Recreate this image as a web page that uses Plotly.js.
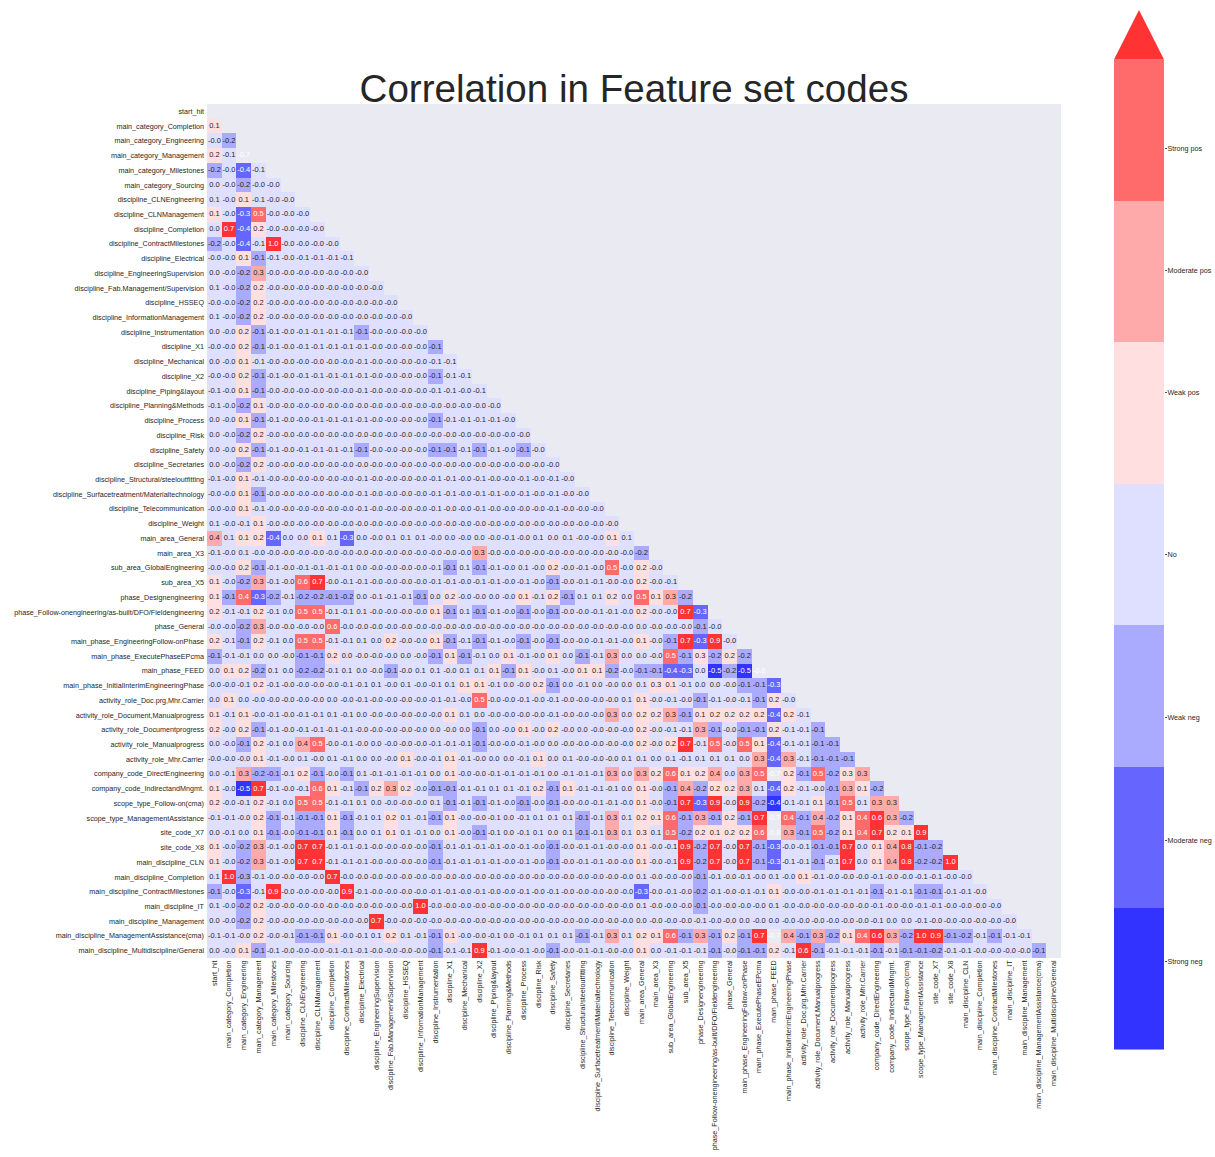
<!DOCTYPE html>
<html><head><meta charset="utf-8">
<script src="https://cdn.plot.ly/plotly-3.0.1.min.js"></script>
<style>html,body{margin:0;padding:0;background:#fff}</style></head>
<body><div id="chart" style="width:1215px;height:1157px"></div>
<script>
const features=["start_hit","main_category_Completion","main_category_Engineering","main_category_Management","main_category_Milestones","main_category_Sourcing","discipline_CLNEngineering","discipline_CLNManagement","discipline_Completion","discipline_ContractMilestones","discipline_Electrical","discipline_EngineeringSupervision","discipline_Fab.Management/Supervision","discipline_HSSEQ","discipline_InformationManagement","discipline_Instrumentation","discipline_X1","discipline_Mechanical","discipline_X2","discipline_Piping&layout","discipline_Planning&Methods","discipline_Process","discipline_Risk","discipline_Safety","discipline_Secretaries","discipline_Structural/steeloutfitting","discipline_Surfacetreatment/Materialtechnology","discipline_Telecommunication","discipline_Weight","main_area_General","main_area_X3","sub_area_GlobalEngineering","sub_area_X5","phase_Designengineering","phase_Follow-onengineering/as-built/DFO/Fieldengineering","phase_General","main_phase_EngineeringFollow-onPhase","main_phase_ExecutePhaseEPcma","main_phase_FEED","main_phase_InitialInterimEngineeringPhase","activity_role_Doc.prg,Mhr.Carrier","activity_role_Document,Manualprogress","activity_role_Documentprogress","activity_role_Manualprogress","activity_role_Mhr.Carrier","company_code_DirectEngineering","company_code_IndirectandMngmt.","scope_type_Follow-on(cma)","scope_type_ManagementAssistance","site_code_X7","site_code_X8","main_discipline_CLN","main_discipline_Completion","main_discipline_ContractMilestones","main_discipline_IT","main_discipline_Management","main_discipline_ManagementAssistance(cma)","main_discipline_Multidiscipline/General"];
const r00=[];
const r01=[.12];
const r02=[-.02,-.2];
const r03=[.2,-.08,-.7];
const r04=[-.2,-.02,-.38,-.08];
const r05=[.02,-.02,-.2,-.02,-.02];
const r06=[.08,-.02,.12,-.08,-.02,-.02];
const r07=[.12,-.02,-.32,.5,-.02,-.02,-.02];
const r08=[.02,.7,-.38,.2,-.02,-.02,-.02,-.02];
const r09=[-.2,-.02,-.38,-.08,1,-.02,-.02,-.02,-.02];
const r10=[-.02,-.02,.12,-.12,-.08,-.02,-.08,-.08,-.08,-.08];
const r11=[.02,-.02,-.2,.32,-.02,-.02,-.02,-.02,-.02,-.02,-.02];
const r12=[.08,-.02,-.2,.2,-.02,-.02,-.02,-.02,-.02,-.02,-.02,-.02];
const r13=[-.02,-.02,-.2,.2,-.02,-.02,-.02,-.02,-.02,-.02,-.02,-.02,-.02];
const r14=[.08,-.02,-.2,.2,-.02,-.02,-.02,-.02,-.02,-.02,-.02,-.02,-.02,-.02];
const r15=[.02,-.02,.2,-.12,-.08,-.02,-.08,-.08,-.08,-.08,-.12,-.02,-.02,-.02,-.02];
const r16=[-.02,-.02,.2,-.12,-.08,-.02,-.08,-.08,-.08,-.08,-.08,-.02,-.02,-.02,-.02,-.12];
const r17=[.02,-.02,.12,-.08,-.02,-.02,-.02,-.02,-.02,-.02,-.08,-.02,-.02,-.02,-.02,-.08,-.08];
const r18=[-.02,-.02,.2,-.12,-.08,-.02,-.08,-.08,-.08,-.08,-.08,-.02,-.02,-.02,-.02,-.12,-.08,-.08];
const r19=[-.08,-.02,.12,-.12,-.02,-.02,-.02,-.02,-.02,-.02,-.08,-.02,-.02,-.02,-.02,-.08,-.08,-.02,-.08];
const r20=[-.08,-.02,-.2,.12,-.02,-.02,-.02,-.02,-.02,-.02,-.02,-.02,-.02,-.02,-.02,-.02,-.02,-.02,-.02,-.02];
const r21=[.02,-.02,.12,-.12,-.08,-.02,-.02,-.08,-.08,-.08,-.08,-.02,-.02,-.02,-.02,-.12,-.08,-.08,-.08,-.08,-.02];
const r22=[.02,-.02,-.2,.2,-.02,-.02,-.02,-.02,-.02,-.02,-.02,-.02,-.02,-.02,-.02,-.02,-.02,-.02,-.02,-.02,-.02,-.02];
const r23=[.02,-.02,.2,-.12,-.08,-.02,-.08,-.08,-.08,-.08,-.12,-.02,-.02,-.02,-.02,-.12,-.12,-.08,-.12,-.08,-.02,-.12,-.02];
const r24=[.02,-.02,-.2,.2,-.02,-.02,-.02,-.02,-.02,-.02,-.02,-.02,-.02,-.02,-.02,-.02,-.02,-.02,-.02,-.02,-.02,-.02,-.02,-.02];
const r25=[-.08,-.02,.12,-.08,-.02,-.02,-.02,-.02,-.02,-.02,-.08,-.02,-.02,-.02,-.02,-.08,-.08,-.02,-.08,-.02,-.02,-.08,-.02,-.08,-.02];
const r26=[-.02,-.02,.12,-.12,-.02,-.02,-.02,-.02,-.02,-.02,-.08,-.02,-.02,-.02,-.02,-.08,-.08,-.02,-.08,-.08,-.02,-.08,-.02,-.08,-.02,-.02];
const r27=[-.02,-.02,.12,-.08,-.02,-.02,-.02,-.02,-.02,-.02,-.08,-.02,-.02,-.02,-.02,-.08,-.02,-.02,-.08,-.02,-.02,-.02,-.02,-.08,-.02,-.02,-.02];
const r28=[.08,-.02,-.08,.12,-.02,-.02,-.02,-.02,-.02,-.02,-.02,-.02,-.02,-.02,-.02,-.02,-.02,-.02,-.02,-.02,-.02,-.02,-.02,-.02,-.02,-.02,-.02,-.02];
const r29=[.38,.08,.12,.2,-.38,.02,.02,.12,.08,-.32,.02,-.02,.08,.08,.08,-.02,.02,-.02,.02,-.02,-.08,-.02,.08,.02,.08,-.02,-.02,.12,.08];
const r30=[-.08,-.02,.08,-.02,-.02,-.02,-.02,-.02,-.02,-.02,-.02,-.02,-.02,-.02,-.02,-.02,-.02,-.02,.32,-.02,-.02,-.02,-.02,-.02,-.02,-.02,-.02,-.02,-.02,-.2];
const r31=[-.02,-.02,.2,-.12,-.08,-.02,-.08,-.08,-.08,-.08,.02,-.02,-.02,-.02,-.02,-.08,-.12,.08,-.12,-.08,-.02,.08,-.02,.2,-.02,-.08,-.02,.5,-.02,.2,-.02];
const r32=[.12,-.02,-.2,.32,-.08,-.02,.58,.7,-.02,-.08,-.08,-.02,-.02,-.02,-.02,-.08,-.08,-.02,-.08,-.08,-.02,-.08,-.02,-.12,-.02,-.08,-.08,-.02,-.02,.2,-.02,-.08];
const r33=[.12,-.12,.42,-.32,-.2,-.08,-.2,-.2,-.12,-.2,.02,-.08,-.08,-.08,-.12,.02,.2,-.02,-.02,.02,-.02,.12,-.08,.2,-.12,.08,.08,.2,.02,.5,.12,.32,-.2];
const r34=[.2,-.08,-.08,.2,-.08,.02,.5,.5,-.08,-.08,.08,-.02,-.02,-.02,-.02,.12,-.12,.08,-.12,-.08,-.02,-.12,-.02,-.12,-.02,-.02,-.08,-.08,-.02,.2,-.02,-.02,.7,-.32];
const r35=[-.02,-.02,-.2,.32,-.02,-.02,-.02,-.02,.58,-.02,-.02,-.02,-.02,-.02,-.02,-.02,-.02,-.02,-.02,-.02,-.02,-.02,-.02,-.02,-.02,-.02,-.02,-.02,-.02,.02,-.02,-.02,-.02,-.12,-.02];
const r36=[.2,-.08,-.12,.2,-.08,.02,.5,.5,-.08,-.08,.08,.02,.2,-.02,-.02,.12,-.12,-.08,-.12,-.08,-.02,-.12,-.02,-.12,-.02,-.02,-.08,-.08,-.02,.12,-.02,-.12,.7,-.32,.9,-.02];
const r37=[-.12,-.08,-.08,.02,.02,-.02,-.12,-.12,.2,.02,-.02,-.02,-.02,.02,-.02,-.12,.12,-.12,-.08,.02,.12,-.08,-.02,.12,.02,-.12,-.08,.32,.02,.02,-.02,.5,-.12,.28,-.2,.2,-.2];
const r38=[.02,.12,.2,-.2,.08,.02,-.2,-.2,-.08,.08,.02,-.02,-.12,-.02,.08,.08,-.02,.08,.08,.12,-.12,.12,-.02,.08,-.02,.12,.12,-.2,-.02,-.12,-.12,-.38,-.32,.02,-.5,-.2,-.5,-.62];
const r39=[-.02,-.02,-.08,.2,-.08,-.02,-.02,-.02,-.02,-.08,-.08,.08,-.02,.08,-.02,-.08,.08,.12,.12,-.08,.02,-.02,.2,-.12,.02,-.08,.02,-.02,.02,.08,.28,.12,-.08,.02,.02,-.02,-.12,-.12,-.32];
const r40=[.02,.12,.02,-.02,-.02,-.02,-.02,-.02,.02,-.02,-.08,-.02,-.02,-.02,-.02,-.08,-.08,-.02,.5,-.02,-.02,-.08,-.02,-.08,-.02,-.02,-.02,-.02,.08,.12,-.02,-.08,-.02,-.12,-.08,-.02,-.08,-.12,.2,-.02];
const r41=[.12,-.08,.12,-.02,-.08,-.02,-.08,-.08,.08,-.08,.02,-.02,-.02,-.02,-.02,-.02,.12,.08,.02,-.02,-.02,-.02,-.02,-.08,-.02,-.02,-.02,.32,.02,.2,.2,.32,-.12,.12,.2,.2,.2,.2,-.38,.2,-.08];
const r42=[.2,-.02,.2,-.12,-.08,-.02,-.08,-.08,-.08,-.08,-.02,-.02,-.02,-.02,-.02,.02,-.02,.02,-.12,.02,-.02,.12,-.02,.2,-.02,.02,-.02,-.02,-.02,.2,-.02,-.08,-.08,.32,-.12,-.02,-.12,-.12,.2,-.08,-.08,-.12];
const r43=[.02,-.02,-.12,.2,-.08,.02,.38,.5,-.02,-.08,-.02,.02,-.02,-.02,-.02,-.08,-.08,-.08,-.12,-.02,-.02,-.08,-.02,.02,-.02,-.02,-.02,-.02,-.02,.2,-.02,.2,.7,-.08,.5,-.02,.5,.12,-.38,-.08,-.08,-.12,-.12];
const r44=[-.02,-.02,-.02,.12,-.08,-.02,.08,-.02,.08,-.08,.02,.02,-.02,.12,-.02,-.08,.12,-.08,-.02,.02,.02,-.08,.12,.02,.08,-.02,-.02,-.02,.08,.08,.02,.08,-.08,.08,.08,.08,.02,.32,-.38,.32,-.08,-.12,-.12,-.12];
const r45=[.02,-.08,.32,-.2,-.12,-.08,.2,-.12,-.02,-.12,.08,-.08,-.08,-.08,-.08,.02,.12,-.02,-.02,-.08,-.08,-.08,-.08,.02,-.08,-.08,-.08,.32,.02,.32,.2,.58,.12,.2,.38,.02,.32,.5,-.7,.2,-.12,.5,-.2,.28,.32];
const r46=[.12,-.02,-.5,.7,-.08,-.02,-.08,.58,.12,-.08,-.12,.2,.32,.2,-.02,-.12,-.12,-.08,-.08,.08,.08,-.08,.2,-.12,.12,-.08,-.08,-.08,.02,.12,-.02,-.12,.38,-.2,.2,.2,.32,.08,-.38,.2,-.08,-.02,-.12,.32,.12,-.2];
const r47=[.2,-.02,-.08,.2,-.08,.02,.5,.5,-.08,-.08,.08,.02,-.02,-.02,-.02,.08,-.12,-.08,-.12,-.08,-.02,-.12,-.02,-.12,-.02,-.02,-.08,-.08,-.02,.12,-.02,-.12,.7,-.32,.9,-.02,.9,-.2,-.42,-.08,-.08,.12,-.12,.5,.08,.32,.32];
const r48=[-.08,-.08,-.02,.2,-.12,-.08,-.12,-.12,.12,-.12,-.08,.08,.2,.08,-.08,-.12,.12,-.02,-.02,-.08,.02,-.08,.08,.08,.08,-.12,-.08,.32,.08,.2,.12,.58,-.12,.32,-.12,.2,-.12,.7,-.7,.42,-.12,.38,-.2,.12,.42,.62,.32,-.2];
const r49=[.02,-.08,.02,.12,-.12,-.02,-.12,-.12,.12,-.12,.02,.08,.12,.08,-.08,.02,.12,-.02,-.12,-.08,.02,-.08,.08,.02,.08,-.12,-.08,.32,.08,.28,.08,.5,-.2,.2,.12,.2,.2,.58,-.8,.32,-.12,.5,-.2,.12,.42,.7,.2,.12,.9];
const r50=[.12,-.02,-.2,.32,-.08,-.02,.7,.7,-.08,-.08,-.08,-.02,-.02,-.02,-.02,-.12,-.08,-.08,-.08,-.08,-.02,-.08,-.02,-.12,-.02,-.08,-.08,-.02,-.02,.12,-.02,-.08,.9,-.2,.7,-.02,.7,-.12,-.32,-.02,-.08,-.12,-.12,.7,.02,.12,.38,.8,-.12,-.2];
const r51=[.12,-.02,-.2,.32,-.08,-.02,.7,.7,-.08,-.08,-.08,-.02,-.02,-.02,-.02,-.12,-.08,-.08,-.08,-.08,-.02,-.08,-.02,-.12,-.02,-.08,-.08,-.02,-.02,.12,-.02,-.08,.9,-.2,.7,-.02,.7,-.12,-.32,-.08,-.08,-.12,-.08,.7,.02,.12,.38,.8,-.2,-.2,1];
const r52=[.08,1,-.28,-.08,-.02,-.02,-.02,-.02,.7,-.02,-.02,-.02,-.02,-.02,-.02,-.02,-.02,-.02,-.02,-.02,-.02,-.02,-.02,-.02,-.02,-.02,-.02,-.02,-.02,.08,-.02,-.02,-.02,-.12,-.08,-.02,-.08,-.02,.08,-.02,.12,-.08,-.02,-.02,-.02,-.08,-.02,-.02,-.08,-.08,-.02,-.02];
const r53=[-.12,-.02,-.32,-.08,.9,-.02,-.02,-.02,-.02,.9,-.08,-.02,-.02,-.02,-.02,-.08,-.08,-.02,-.08,-.02,-.02,-.08,-.02,-.08,-.02,-.02,-.02,-.02,-.02,-.32,-.02,-.08,-.02,-.2,-.08,-.02,-.08,-.08,.12,-.02,-.02,-.08,-.08,-.08,-.08,-.12,-.08,-.08,-.12,-.12,-.08,-.08,-.02];
const r54=[.08,-.02,-.2,.2,-.02,-.02,-.02,-.02,-.02,-.02,-.02,-.02,-.02,-.02,1,-.02,-.02,-.02,-.02,-.02,-.02,-.02,-.02,-.02,-.02,-.02,-.02,-.02,-.02,.08,-.02,-.02,-.02,-.12,-.02,-.02,-.02,-.02,.08,-.02,-.02,-.02,-.02,-.02,-.02,-.08,-.02,-.02,-.08,-.08,-.02,-.02,-.02,-.02];
const r55=[.02,-.02,-.2,.2,-.02,-.02,-.02,-.02,-.02,-.02,-.02,.7,-.02,-.02,-.02,-.02,-.02,-.02,-.02,-.02,-.02,-.02,-.02,-.02,-.02,-.02,-.02,-.02,-.02,.02,-.02,-.02,-.02,-.08,-.02,-.02,.02,-.02,.02,-.02,-.02,-.02,-.02,-.02,-.02,-.08,.02,.02,-.08,-.02,-.02,-.02,-.02,-.02,-.02];
const r56=[-.08,-.08,-.02,.2,-.02,-.08,-.12,-.12,.12,-.02,-.08,.08,.2,.08,-.08,-.12,.12,-.02,-.02,-.08,.02,-.08,.08,.08,.08,-.12,-.08,.32,.08,.2,.12,.58,-.12,.32,-.12,.2,-.12,.7,-.7,.38,-.12,.32,-.2,.12,.42,.62,.32,-.2,1,.9,-.12,-.2,-.08,-.12,-.08,-.08];
const r57=[.02,-.02,.12,-.12,-.08,-.02,-.02,-.02,-.08,-.08,-.08,-.02,-.02,-.02,-.02,-.12,-.08,-.08,.9,-.08,-.02,-.08,-.02,-.12,-.02,-.08,-.08,-.02,-.02,.12,.02,-.08,-.08,-.08,-.12,-.02,-.12,-.12,.2,-.08,.62,-.12,-.08,-.08,-.08,-.12,-.08,-.12,-.12,-.2,-.08,-.08,-.02,-.02,-.02,-.02,-.12];
const rows=[r00,r01,r02,r03,r04,r05,r06,r07,r08,r09,r10,r11,r12,r13,r14,r15,r16,r17,r18,r19,r20,r21,r22,r23,r24,r25,r26,r27,r28,r29,r30,r31,r32,r33,r34,r35,r36,r37,r38,r39,r40,r41,r42,r43,r44,r45,r46,r47,r48,r49,r50,r51,r52,r53,r54,r55,r56,r57];

const bounds=[-.6,-.4,-.3,-.1,.1,.3,.4,.6];
const binColors=["#3333ff","#6666ff","#aaaaff","#dfdfff","#ffdfdf","#ffaaaa","#ff6b6b","#ff3333"];
const binLabels=["Strong neg","Moderate neg","Weak neg","No","Weak pos","Moderate pos","Strong pos"];
const binLabelPos=[0.629,1.478,2.347,3.5,4.645,5.509,6.371];
const DARK="#262626", FONT="Liberation Sans, Arial, sans-serif";

function bin(v){ if(v<bounds[0]) return -1; let k=0; while(k<bounds.length&&v>=bounds[k]) k++; return k-1; }
const n=features.length, idx=features.map((_,i)=>i);
const z=rows.map(r=>idx.map(c=>{ if(c>=r.length) return null; const b=bin(r[c]); return b<0?null:b+.5; }));
const tx=[],ty=[],tt=[],tc=[];
rows.forEach((r,i)=>r.forEach((v,c)=>{ const b=bin(v); tx.push(c);ty.push(i);tt.push(v.toFixed(1)); tc.push((b<0||b<=1||b>=6)?"#ffffff":DARK); }));
const scale=[]; binColors.forEach((c,i)=>{scale.push([i/8,c]);scale.push([(i+1)/8,c]);});

const W=1215,H=1157;
const data=[
 {type:"heatmap",x:idx,y:idx,z:z,zmin:0,zmax:8,colorscale:scale,showscale:false,hoverongaps:false,xaxis:"x",yaxis:"y"},
 {type:"scatter",mode:"text",x:tx,y:ty,text:tt,textposition:"middle center",textfont:{size:7.5,color:tc,family:FONT},hoverinfo:"skip",showlegend:false,xaxis:"x",yaxis:"y",cliponaxis:false},
 {type:"heatmap",x:[0,1],y:[0,1,2,3,4,5,6,7],z:[0,1,2,3,4,5,6].map(k=>[k+.5]),zmin:0,zmax:8,colorscale:scale,showscale:false,hoverinfo:"skip",xaxis:"x2",yaxis:"y2"},
 {type:"scatter",mode:"lines",x:[0,.5,1,0],y:[7,7.35,7,7],fill:"toself",fillcolor:binColors[7],line:{width:0,color:binColors[7]},hoverinfo:"skip",showlegend:false,xaxis:"x2",yaxis:"y2"}
];
const layout={
 width:W,height:H,autosize:false,margin:{l:0,r:0,t:0,b:0},paper_bgcolor:"#ffffff",plot_bgcolor:"rgba(0,0,0,0)",showlegend:false,
 font:{family:FONT,color:DARK},
 title:{text:"Correlation in Feature set codes",font:{size:38.6,family:FONT,color:DARK},x:634/W,xanchor:"center",xref:"paper",y:1-88/H,yanchor:"middle",yref:"paper"},
 xaxis:{domain:[207/W,1061/W],range:[-.5,n-.5],anchor:"y",tickmode:"array",tickvals:idx,ticktext:features,tickangle:-90,ticks:"",ticklen:0,showgrid:false,zeroline:false,showline:false,tickfont:{size:7.2,family:FONT,color:DARK},automargin:false},
 yaxis:{domain:[1-958/H,1-104/H],range:[n-.5,-.5],anchor:"x",tickmode:"array",tickvals:idx,ticktext:features,ticks:"",ticklen:0,ticklabelstandoff:2,showgrid:false,zeroline:false,showline:false,tickfont:{size:7.2,family:FONT,color:DARK},automargin:false},
 xaxis2:{domain:[1114/W,1164/W],range:[0,1],anchor:"y2",visible:false,fixedrange:true},
 yaxis2:{domain:[1-1050/H,1-10/H],range:[0,7.35],anchor:"x2",side:"right",tickmode:"array",tickvals:binLabelPos,ticktext:binLabels,ticks:"outside",ticklen:2,tickwidth:1,tickcolor:"#555555",ticklabelstandoff:-1,showgrid:false,zeroline:false,showline:false,tickfont:{size:7.2,family:FONT,color:DARK},automargin:false},
 shapes:[{type:"rect",xref:"x domain",yref:"y domain",x0:0,x1:1,y0:0,y1:1,fillcolor:"#eaeaf2",line:{width:0},layer:"below"}]
};
Plotly.newPlot("chart",data,layout,{displayModeBar:false,staticPlot:true});
</script></body></html>
